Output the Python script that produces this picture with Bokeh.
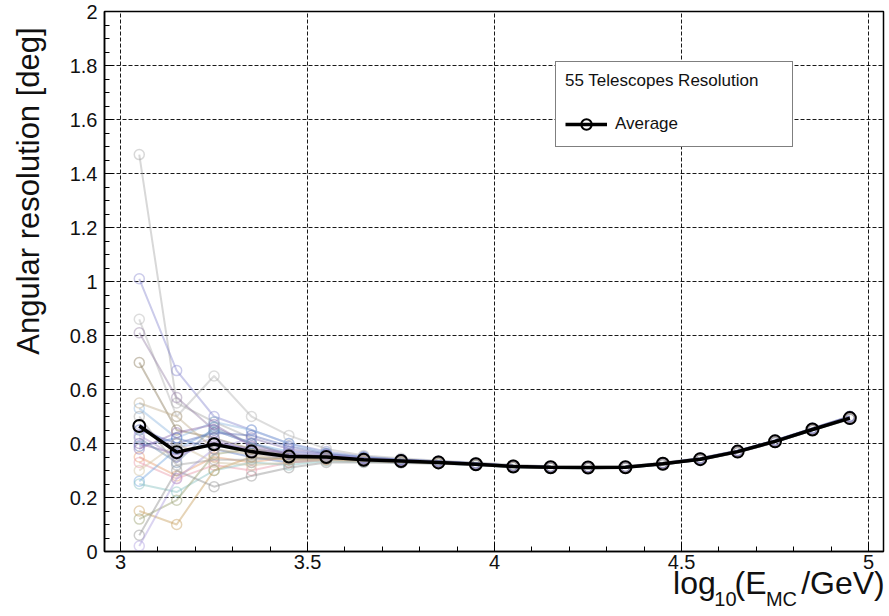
from bokeh.plotting import figure
from bokeh.models import (Range1d, FixedTicker, CustomJSTickFormatter, LinearAxis,
                          Legend, LegendItem)
from bokeh.embed import file_html
from bokeh.resources import INLINE

# ---------------- data ----------------
log_e = [3.05, 3.15, 3.25, 3.35, 3.45, 3.55, 3.65, 3.75, 3.85, 3.95,
         4.05, 4.15, 4.25, 4.35, 4.45, 4.55, 4.65, 4.75, 4.85, 4.95]

average = [0.465, 0.368, 0.397, 0.370, 0.352, 0.350, 0.340, 0.335, 0.330, 0.323,
           0.315, 0.312, 0.311, 0.312, 0.325, 0.342, 0.370, 0.408, 0.452, 0.494]

tel_01 = [1.47, 0.55, 0.48, 0.42, 0.38, 0.36, 0.35, 0.34, 0.334, 0.328, 0.32, 0.315, 0.314, 0.316, 0.33, 0.346, 0.374, 0.41, 0.456, 0.50]
tel_02 = [1.01, 0.67, 0.50, 0.45, 0.40, 0.37, 0.352, 0.342, 0.333, 0.325, 0.317, 0.312, 0.31, 0.311, 0.324, 0.34, 0.368, 0.405, 0.45, 0.492]
tel_03 = [0.86, 0.50, 0.65, 0.50, 0.43, 0.38, 0.356, 0.345, 0.336, 0.33, 0.321, 0.316, 0.313, 0.315, 0.328, 0.345, 0.372, 0.411, 0.455, 0.498]
tel_04 = [0.81, 0.57, 0.45, 0.40, 0.36, 0.35, 0.34, 0.335, 0.33, 0.324, 0.315, 0.311, 0.309, 0.31, 0.322, 0.34, 0.367, 0.404, 0.449, 0.493]
tel_05 = [0.70, 0.45, 0.42, 0.38, 0.35, 0.345, 0.338, 0.332, 0.329, 0.322, 0.314, 0.31, 0.31, 0.312, 0.325, 0.343, 0.371, 0.409, 0.453, 0.497]
tel_06 = [0.53, 0.42, 0.48, 0.45, 0.40, 0.365, 0.35, 0.34, 0.333, 0.326, 0.318, 0.314, 0.312, 0.313, 0.326, 0.344, 0.372, 0.41, 0.454, 0.496]
tel_07 = [0.47, 0.38, 0.42, 0.37, 0.34, 0.345, 0.336, 0.332, 0.328, 0.322, 0.313, 0.31, 0.309, 0.311, 0.323, 0.341, 0.369, 0.407, 0.451, 0.494]
tel_08 = [0.40, 0.36, 0.40, 0.38, 0.36, 0.355, 0.344, 0.338, 0.332, 0.325, 0.317, 0.313, 0.312, 0.313, 0.326, 0.343, 0.371, 0.409, 0.453, 0.496]
tel_09 = [0.39, 0.42, 0.38, 0.35, 0.33, 0.34, 0.334, 0.33, 0.327, 0.32, 0.313, 0.31, 0.309, 0.31, 0.323, 0.34, 0.368, 0.406, 0.45, 0.492]
tel_10 = [0.35, 0.28, 0.35, 0.33, 0.35, 0.348, 0.34, 0.335, 0.33, 0.323, 0.315, 0.312, 0.311, 0.312, 0.325, 0.343, 0.37, 0.409, 0.452, 0.495]
tel_11 = [0.33, 0.27, 0.32, 0.30, 0.33, 0.34, 0.337, 0.333, 0.328, 0.322, 0.314, 0.311, 0.31, 0.311, 0.324, 0.341, 0.369, 0.407, 0.451, 0.493]
tel_12 = [0.26, 0.38, 0.45, 0.40, 0.37, 0.36, 0.345, 0.338, 0.332, 0.325, 0.316, 0.313, 0.312, 0.313, 0.326, 0.344, 0.372, 0.41, 0.455, 0.498]
tel_13 = [0.25, 0.22, 0.30, 0.33, 0.32, 0.335, 0.332, 0.33, 0.326, 0.32, 0.312, 0.309, 0.308, 0.31, 0.322, 0.34, 0.368, 0.405, 0.449, 0.491]
tel_14 = [0.15, 0.10, 0.30, 0.35, 0.34, 0.342, 0.336, 0.332, 0.328, 0.322, 0.314, 0.311, 0.31, 0.312, 0.325, 0.342, 0.37, 0.408, 0.452, 0.495]
tel_15 = [0.12, 0.19, 0.36, 0.38, 0.36, 0.352, 0.342, 0.336, 0.331, 0.324, 0.316, 0.313, 0.311, 0.313, 0.326, 0.343, 0.371, 0.409, 0.453, 0.497]
tel_16 = [0.06, 0.30, 0.24, 0.28, 0.31, 0.33, 0.33, 0.328, 0.325, 0.32, 0.312, 0.309, 0.308, 0.31, 0.322, 0.339, 0.367, 0.405, 0.449, 0.49]
tel_17 = [0.02, 0.27, 0.38, 0.42, 0.38, 0.36, 0.346, 0.339, 0.333, 0.326, 0.317, 0.314, 0.312, 0.314, 0.327, 0.345, 0.373, 0.411, 0.456, 0.50]
tel_18 = [0.45, 0.40, 0.44, 0.43, 0.39, 0.362, 0.348, 0.34, 0.334, 0.327, 0.318, 0.314, 0.313, 0.314, 0.327, 0.345, 0.373, 0.412, 0.457, 0.501]
tel_19 = [0.55, 0.50, 0.38, 0.36, 0.34, 0.343, 0.337, 0.333, 0.329, 0.323, 0.315, 0.312, 0.311, 0.312, 0.325, 0.342, 0.37, 0.408, 0.452, 0.495]
tel_20 = [0.42, 0.33, 0.46, 0.40, 0.36, 0.354, 0.343, 0.337, 0.332, 0.325, 0.316, 0.313, 0.311, 0.313, 0.326, 0.343, 0.371, 0.409, 0.454, 0.497]
tel_21 = [0.38, 0.44, 0.47, 0.39, 0.36, 0.35, 0.341, 0.336, 0.331, 0.324, 0.315, 0.312, 0.311, 0.312, 0.325, 0.342, 0.37, 0.408, 0.452, 0.494]
tel_22 = [0.30, 0.40, 0.33, 0.32, 0.33, 0.338, 0.334, 0.331, 0.327, 0.321, 0.313, 0.31, 0.309, 0.311, 0.323, 0.34, 0.368, 0.406, 0.45, 0.492]
tel_23 = [0.43, 0.35, 0.41, 0.37, 0.37, 0.357, 0.345, 0.338, 0.333, 0.326, 0.317, 0.313, 0.312, 0.313, 0.326, 0.344, 0.372, 0.41, 0.455, 0.498]
tel_24 = [0.50, 0.32, 0.34, 0.34, 0.35, 0.346, 0.339, 0.334, 0.33, 0.323, 0.315, 0.311, 0.31, 0.312, 0.324, 0.341, 0.369, 0.407, 0.451, 0.494]

telescopes = [tel_01, tel_02, tel_03, tel_04, tel_05, tel_06, tel_07, tel_08,
              tel_09, tel_10, tel_11, tel_12, tel_13, tel_14, tel_15, tel_16,
              tel_17, tel_18, tel_19, tel_20, tel_21, tel_22, tel_23, tel_24]

tel_colors = ["#a8a8a8", "#8c8cd0", "#b4b4b4", "#9a86a8", "#8a7a5a", "#90b8e0",
              "#a098d0", "#8060a8", "#5878c0", "#e8a070", "#e898a8", "#78a8e0",
              "#88c0c0", "#c8a060", "#98a070", "#909090", "#b0a0e0", "#6070b8",
              "#c0b090", "#7090b0", "#9070b0", "#d0c0a0", "#a890d0", "#a0a0a0"]

x_ticks = [3, 3.5, 4, 4.5, 5]
x_minor = [3.1, 3.2, 3.3, 3.4, 3.6, 3.7, 3.8, 3.9, 4.1, 4.2, 4.3, 4.4,
           4.6, 4.7, 4.8, 4.9]
y_ticks = [0, 0.2, 0.4, 0.6, 0.8, 1, 1.2, 1.4, 1.6, 1.8, 2]
y_minor = [0.05, 0.1, 0.15, 0.25, 0.3, 0.35, 0.45, 0.5, 0.55, 0.65, 0.7, 0.75,
           0.85, 0.9, 0.95, 1.05, 1.1, 1.15, 1.25, 1.3, 1.35, 1.45, 1.5, 1.55,
           1.65, 1.7, 1.75, 1.85, 1.9, 1.95]

y_title = "Angular resolution [deg]"
x_title_main = ["log", "(E", "/GeV)"]   # log_10(E_MC/GeV)
x_title_sub = ["10", "MC"]

FONT = "Liberation Sans"
INK = "#111111"

# ---------------- figure ----------------
p = figure(width=889, height=616, output_backend="svg", toolbar_location=None,
           x_range=Range1d(2.957, 5.04), y_range=Range1d(0, 2),
           min_border_left=104, min_border_right=6, min_border_top=11,
           min_border_bottom=65)
p.background_fill_color = "white"
p.border_fill_color = "white"
p.outline_line_color = "black"
p.outline_line_width = 1.5

for ax, ticks, minor in ((p.xaxis[0], x_ticks, x_minor), (p.yaxis[0], y_ticks, y_minor)):
    ax.ticker = FixedTicker(ticks=ticks, minor_ticks=minor)
    ax.formatter = CustomJSTickFormatter(code="return String(Math.round(tick*100)/100);")
    ax.major_tick_in = 9
    ax.major_tick_out = 0
    ax.minor_tick_in = 5
    ax.minor_tick_out = 0
    ax.major_tick_line_color = "black"
    ax.minor_tick_line_color = "black"
    ax.axis_line_color = "black"
    ax.axis_line_width = 1.5
    ax.major_label_text_font = FONT
    ax.major_label_text_font_size = "20px"
    ax.major_label_text_color = INK
p.xaxis.major_label_standoff = 3
p.yaxis.major_label_standoff = 7

for g in (p.xgrid[0], p.ygrid[0]):
    g.grid_line_color = "black"
    g.grid_line_dash = "4 2"
    g.grid_line_width = 1
    g.grid_line_alpha = 0.9


def title_axis(ticks, labels, size, standoff, orientation="horizontal"):
    """A bare axis (no line/ticks) used only to place title text outside the frame."""
    ax = LinearAxis(ticker=FixedTicker(ticks=ticks, minor_ticks=[]),
                    formatter=CustomJSTickFormatter(args=dict(labels=labels),
                                                    code="return labels[index];"),
                    axis_line_color=None, major_tick_line_color=None,
                    minor_tick_line_color=None, major_tick_in=0, major_tick_out=0,
                    minor_tick_in=0, minor_tick_out=0,
                    major_label_standoff=standoff,
                    major_label_orientation=orientation,
                    major_label_text_font=FONT, major_label_text_font_size=size,
                    major_label_text_color=INK)
    return ax


# y title: one vertical label, ROOT places it toward the top end of the axis
p.add_layout(title_axis([1.335], [y_title], "31px", 20, "vertical"), "left")

# x title: main-size pieces on one axis, subscripts on a second one just below
p.add_layout(title_axis([4.5345, 4.6843, 4.9316], x_title_main, "32px", -7), "below")
p.add_layout(title_axis([4.6174, 4.7672], x_title_sub, "20px", -16), "below")

# individual telescopes
for vals, col in zip(telescopes, tel_colors):
    p.line(log_e, vals, line_color=col, line_alpha=0.45, line_width=2)
    p.scatter(log_e, vals, marker="circle", size=10, fill_color=None,
              line_color=col, line_alpha=0.45, line_width=1.5)

# average
avg_line = p.line(log_e, average, line_color="black", line_width=3.5)
avg_pts = p.scatter(log_e, average, marker="circle", size=12, fill_color=None,
                    line_color="black", line_width=2)

legend = Legend(items=[LegendItem(label="Average", renderers=[avg_line, avg_pts])],
                location=(451, 404), title="55 Telescopes Resolution",
                title_text_font=FONT, title_text_font_size="17px",
                title_text_font_style="normal", title_text_color=INK,
                title_standoff=20,
                label_text_font=FONT, label_text_font_size="17px",
                label_text_color=INK,
                glyph_width=42, glyph_height=26, label_standoff=8,
                label_width=168, padding=9, spacing=0, margin=0,
                border_line_color="black", border_line_width=1.2,
                background_fill_alpha=1.0)
p.add_layout(legend)

open("out.html", "w").write(file_html(p, INLINE))
